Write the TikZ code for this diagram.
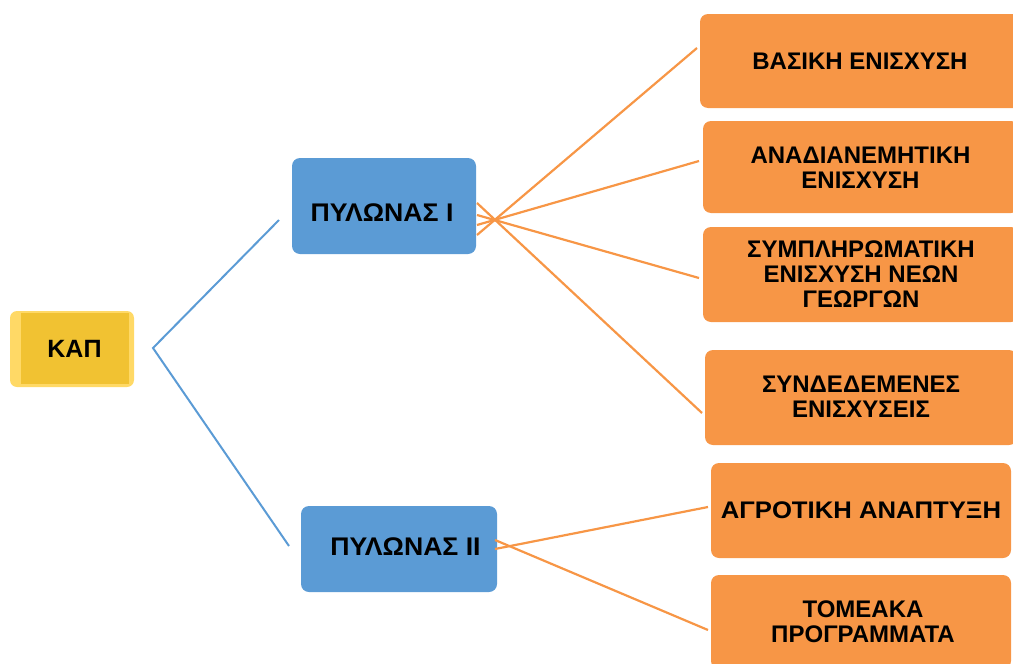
\documentclass[tikz,border=0pt]{standalone}
\usepackage{fontspec}
\setmainfont{Liberation Sans}
\usetikzlibrary{calc}
\definecolor{kapouter}{HTML}{FFD966}
\definecolor{kapinner}{HTML}{F1C232}
\definecolor{pblue}{HTML}{5B9BD5}
\definecolor{porange}{HTML}{F79646}
\tikzset{
  txt/.style={font=\fontsize{24}{25}\selectfont\bfseries, inner sep=0pt, align=center, text=black},
  ptxt/.style={font=\fontsize{25.5}{27}\selectfont\bfseries, inner sep=0pt, text=black},
  pbox/.style={fill=pblue, rounded corners=8pt, draw=none},
  obox/.style={fill=porange, rounded corners=8pt, draw=none},
  bline/.style={draw=pblue, line width=2pt},
  oline/.style={draw=porange, line width=2.2pt},
}
\begin{document}
\begin{tikzpicture}[x=1pt,y=-1pt]
\useasboundingbox (0,0) rectangle (1013,664);
\clip (0,0) rectangle (1013,664);
% KAP
\fill[kapouter, rounded corners=7pt] (10,311) rectangle (134,387);
\fill[kapinner] (21,313) rectangle (129,384);
\node[ptxt, font=\fontsize{25}{26}\selectfont\bfseries] (kap) at (74.5,348.5) {ΚΑΠ};
% Pylon boxes
\path[pbox] (292,158) rectangle (476,254);
\node[ptxt] (p1) at (382,212.5) {\scalebox{1.044}[1]{ΠΥΛΩΝΑΣ Ι}};
\path[pbox] (301,506) rectangle (497,592);
\node[ptxt] (p2) at (405.5,546.5) {\scalebox{1.044}[1]{ΠΥΛΩΝΑΣ ΙΙ}};
% Orange boxes
\path[obox] (700,14) rectangle (1022,108);
\node[txt] (c1) at (860,61.5) {ΒΑΣΙΚΗ ΕΝΙΣΧΥΣΗ};
\path[obox] (703,121) rectangle (1019,213);
\node[txt] (c2) at (860.5,167.5) {ΑΝΑΔΙΑΝΕΜΗΤΙΚΗ\\ΕΝΙΣΧΥΣΗ};
\path[obox] (703,227) rectangle (1019,322);
\node[txt] (c3) at (861,274.5) {ΣΥΜΠΛΗΡΩΜΑΤΙΚΗ\\ΕΝΙΣΧΥΣΗ ΝΕΩΝ\\ΓΕΩΡΓΩΝ};
\path[obox] (705,350) rectangle (1017,445);
\node[txt] (c4) at (861,396.5) {ΣΥΝΔΕΔΕΜΕΝΕΣ\\ΕΝΙΣΧΥΣΕΙΣ};
\path[obox] (711,463) rectangle (1011,558);
\node[txt] (c5) at (861,510.5) {\scalebox{1.07}[1]{ΑΓΡΟΤΙΚΗ ΑΝΑΠΤΥΞΗ}};
\path[obox] (711,575) rectangle (1011,669);
\node[txt] (c6) at (863,622) {ΤΟΜΕΑΚΑ\\ΠΡΟΓΡΑΜΜΑΤΑ};
% blue connectors
\coordinate (kv) at (153,348);
\coordinate (p1in) at (279,220);
\coordinate (p2in) at (289,546);
\draw[bline, line join=miter] (p1in) -- (kv) -- (p2in);
% orange connectors from pylon I
\coordinate (c1in) at (697,48);
\coordinate (c2in) at (699,161);
\coordinate (c3in) at (699,278);
\coordinate (c4in) at (702,413);
\coordinate (e1) at (477,235);
\coordinate (e2) at (477,225);
\coordinate (e3) at (477,215);
\coordinate (e4) at (477,203);
\draw[oline] (e1) -- (c1in);
\draw[oline] (e2) -- (c2in);
\draw[oline] (e3) -- (c3in);
\draw[oline] (e4) -- (c4in);
% orange connectors from pylon II
\coordinate (c5in) at (708,507);
\coordinate (c6in) at (708,630);
\coordinate (e5) at (495,549);
\coordinate (e6) at (495,540);
\draw[oline] (e5) -- (c5in);
\draw[oline] (e6) -- (c6in);
\end{tikzpicture}
\end{document}
